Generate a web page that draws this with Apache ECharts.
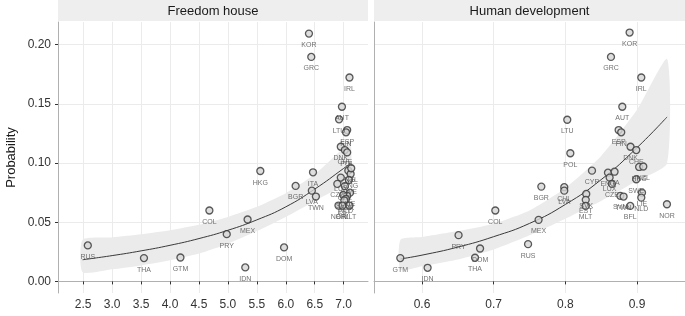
<!DOCTYPE html>
<html>
<head>
<meta charset="utf-8">
<script src="https://cdn.jsdelivr.net/npm/echarts@6/dist/echarts.min.js"></script>
<style>
  html, body { margin: 0; padding: 0; background: #fff; }
  #chart { width: 685px; height: 316px; }
</style>
</head>
<body>
<div id="chart"></div>
<script>
// countries, same order in every array below
var countries = ['KOR','GRC','IRL','AUT','LTU','ESP','FIN','DNK','CHE','POL',
  'CYP','ENG','ITA','HKG','NZL','LUX','SWE','CZE','BGR','CHL',
  'LVA','LIE','SVK','SVN','TWN','NLD','EST','NOR','BFL','MLT',
  'COL','MEX','PRY','RUS','DOM','THA','GTM','IDN'];

// left panel: freedom house score / probability
var freedomScore = [6.40,6.44,7.10,6.97,6.92,7.06,7.04,6.95,7.02,7.06,
  7.08,7.12,6.47,5.56,7.13,6.95,7.09,6.89,6.17,7.02,
  6.45,7.11,7.06,6.99,6.52,7.04,7.01,6.91,6.98,7.10,
  4.68,5.34,4.98,2.58,5.97,3.55,4.18,5.30];
var freedomProb = [0.2094,0.1897,0.1723,0.1476,0.1370,0.1279,0.1260,0.1138,0.1110,0.1090,
  0.0936,0.0908,0.0922,0.0933,0.0956,0.0877,0.0857,0.0824,0.0807,0.0805,
  0.0767,0.0750,0.0722,0.0731,0.0717,0.0697,0.0685,0.0641,0.0641,0.0641,
  0.0599,0.0523,0.0399,0.0304,0.0287,0.0197,0.0202,0.0118];

// right panel: human development index / probability
var hdiScore = [0.8897,0.8637,0.906,0.8795,0.8027,0.8744,0.878,0.891,0.899,0.807,
  0.8372,0.8595,0.8687,0.903,0.9088,0.8618,0.899,0.865,0.7665,0.7985,
  0.7985,0.907,0.8292,0.8767,0.8813,0.906,0.8285,0.9418,0.8906,0.8283,
  0.7023,0.7627,0.651,0.748,0.681,0.674,0.5697,0.6078];
var hdiProb = [0.2103,0.1897,0.1723,0.1476,0.1366,0.1279,0.1260,0.1138,0.1110,0.1083,
  0.0936,0.0919,0.0927,0.0967,0.0971,0.0877,0.0863,0.0824,0.0801,0.0796,
  0.0767,0.0750,0.0739,0.0723,0.0717,0.0708,0.0689,0.0652,0.0638,0.0638,
  0.0599,0.0520,0.0391,0.0315,0.0278,0.0200,0.0197,0.0115];

// fitted curves and confidence bands
var freedomFitX = [2.49,3.0,3.5,4.0,4.5,5.0,5.5,6.0,6.5,7.0,7.12];
var freedomFit = [0.0183,0.0218,0.0258,0.0305,0.0362,0.0432,0.0520,0.0630,0.0780,0.0955,0.1000];
var freedomUpper = [0.0352,0.0372,0.0398,0.0432,0.0478,0.0545,0.0630,0.0745,0.0905,0.1130,0.1185];
var freedomLower = [0.0078,0.0102,0.0135,0.0178,0.0235,0.0318,0.0425,0.0545,0.0680,0.0810,0.0845];

var hdiFitX = [0.57,0.60,0.65,0.70,0.75,0.80,0.85,0.90,0.942];
var hdiFit = [0.0190,0.0222,0.0290,0.0378,0.0490,0.0650,0.0860,0.1130,0.1390];
var hdiUpper = [0.0352,0.0375,0.0425,0.0488,0.0600,0.0790,0.1060,0.1450,0.1880];
var hdiLower = [0.0099,0.0128,0.0185,0.0270,0.0390,0.0530,0.0680,0.0850,0.0998];

var probTicks = [0, 0.05, 0.10, 0.15, 0.20];
var freedomTicks = [2.5,3.0,3.5,4.0,4.5,5.0,5.5,6.0,6.5,7.0];
var hdiTicks = [0.6,0.7,0.8,0.9];

var FONT = 'Liberation Sans';
var chart = echarts.init(document.getElementById('chart'), null, { renderer: 'canvas' });

function points(xs, ys) {
  return countries.map(function (c, i) { return { name: c, value: [xs[i], ys[i]] }; });
}

function xAxisFor(idx, min, max, ticks, digits) {
  return {
    type: 'value', gridIndex: idx, min: min, max: max,
    axisLine: { show: true, lineStyle: { color: '#b0b0b0', width: 1 } },
    axisTick: { show: true, length: 3, customValues: ticks, lineStyle: { color: '#333' } },
    axisLabel: { customValues: ticks, margin: 6, fontSize: 12, color: '#333', fontFamily: FONT,
      formatter: function (v) { return v.toFixed(digits); } },
    splitLine: { show: true, lineStyle: { color: '#ebebeb', width: 1 } }
  };
}

function yAxisFor(idx, showLabels) {
  return {
    type: 'value', gridIndex: idx, min: -0.0098, max: 0.2192,
    name: showLabels ? 'Probability' : '', nameLocation: 'middle', nameGap: 40,
    nameTextStyle: { fontSize: 13, color: '#1a1a1a', fontFamily: FONT },
    axisLine: { show: true, lineStyle: { color: '#b0b0b0', width: 1 } },
    axisTick: { show: showLabels, length: 3, customValues: probTicks, lineStyle: { color: '#333' } },
    axisLabel: { show: showLabels, customValues: probTicks, margin: 7, fontSize: 12, color: '#333', fontFamily: FONT,
      formatter: function (v) { return v.toFixed(2); } },
    splitLine: { show: true, lineStyle: { color: '#ebebeb', width: 1 } }
  };
}

function ribbon(idx, xs, lo, hi) {
  return {
    type: 'custom', xAxisIndex: idx, yAxisIndex: idx, silent: true, z: 1,
    data: xs.map(function (x, i) { return [x, lo[i], hi[i]]; }),
    renderItem: function (params, api) {
      if (params.dataIndex !== 0) return null;
      var pts = [];
      for (var i = 0; i < xs.length; i++) pts.push(api.coord([xs[i], hi[i]]));
      for (var j = xs.length - 1; j >= 0; j--) pts.push(api.coord([xs[j], lo[j]]));
      return { type: 'polygon', shape: { points: pts, smooth: 0.2 }, style: { fill: '#ebebeb' } };
    }
  };
}

function fitLine(idx, xs, ys) {
  return {
    type: 'line', xAxisIndex: idx, yAxisIndex: idx, smooth: true, showSymbol: false, silent: true, z: 2,
    lineStyle: { color: '#3a3a3a', width: 1 },
    data: xs.map(function (x, i) { return [x, ys[i]]; })
  };
}

function scatter(idx, data) {
  return {
    type: 'scatter', xAxisIndex: idx, yAxisIndex: idx, z: 3,
    symbol: 'circle', symbolSize: 7,
    itemStyle: { color: '#d6d6d6', borderColor: '#333', borderWidth: 1.3 },
    label: { show: true, position: 'bottom', distance: 4, formatter: '{b}',
      fontSize: 7, color: '#4d4d4d', fontFamily: FONT },
    data: data
  };
}

function strip(x, w, text) {
  return [
    { type: 'rect', left: x, top: 0, shape: { width: w, height: 21 }, style: { fill: '#eeeeee' } },
    { type: 'text', x: x + w / 2, y: 11, style: { text: text, fill: '#1a1a1a', font: '13px ' + FONT,
      textAlign: 'center', textVerticalAlign: 'middle' } }
  ];
}

var option = {
  backgroundColor: '#fff',
  animation: false,
  grid: [
    { left: 58, top: 22, width: 310, height: 271 },
    { left: 374, top: 22, width: 311, height: 271 }
  ],
  xAxis: [
    xAxisFor(0, 2.065, 7.42, freedomTicks, 1),
    xAxisFor(1, 0.533, 0.967, hdiTicks, 1)
  ],
  yAxis: [yAxisFor(0, true), yAxisFor(1, false)],
  graphic: strip(58, 310, 'Freedom house').concat(strip(374, 311, 'Human development')),
  series: [
    ribbon(0, freedomFitX, freedomLower, freedomUpper),
    fitLine(0, freedomFitX, freedomFit),
    scatter(0, points(freedomScore, freedomProb)),
    ribbon(1, hdiFitX, hdiLower, hdiUpper),
    fitLine(1, hdiFitX, hdiFit),
    scatter(1, points(hdiScore, hdiProb))
  ]
};

chart.setOption(option);
</script>
</body>
</html>
